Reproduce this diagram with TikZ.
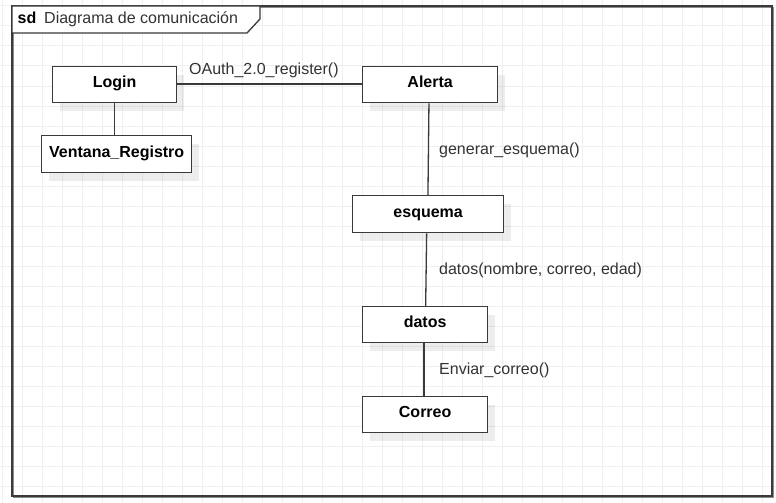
\documentclass[tikz,border=0pt]{standalone}
\usepackage{fontspec}
\setmainfont{Liberation Sans}
\usetikzlibrary{shadows}
\definecolor{gridc}{HTML}{EFEFEF}
\definecolor{linec}{HTML}{3A3A3A}
\definecolor{labelc}{HTML}{333333}
\tikzset{
  objbox/.style={draw=linec, line width=1.3pt, fill=white, rectangle, inner sep=0pt,
    anchor=north west, font=\fontsize{16}{19}\selectfont\bfseries,
    text height=12pt, text depth=6pt,
    drop shadow={shadow xshift=7pt, shadow yshift=-8pt, fill=black, opacity=0.07}},
  msglabel/.style={anchor=base west, inner sep=0pt, text=labelc, font=\fontsize{16}{19}\selectfont},
  conn/.style={draw=linec, line width=1.3pt},
}
\begin{document}
\begin{tikzpicture}[x=1pt,y=-1pt]
\useasboundingbox (0,0) rectangle (776,503);
\fill[white] (0,0) rectangle (776,503);
% grid
\foreach \gx in {2.7,22.7,...,776} \draw[gridc, line width=1pt] (\gx,0) -- (\gx,503);
\foreach \gy in {6,26,...,503} \draw[gridc, line width=1pt] (0,\gy) -- (776,\gy);
% frame
\draw[black!45, line width=1.3pt] (13.2,7.2) rectangle (773.2,497.2);
\draw[linec, line width=1.5pt] (12,6) rectangle (772,496);
\filldraw[fill=white, draw=linec, line width=1.3pt] (12,6) -- (260,6) -- (260,19) -- (247,33) -- (12,33) -- cycle;
\node[anchor=base west, inner sep=0pt, font=\fontsize{16}{19}\selectfont\bfseries] (sd) at (17.5,24) {sd};
\node[anchor=base west, inner sep=0pt, text=labelc, font=\fontsize{16}{19}\selectfont] (title) at (44,24) {Diagrama de comunicación};
% objects
\node[objbox, minimum width=124pt, minimum height=36pt] (login) at (52,66) {Login};
\node[objbox, minimum width=150pt, minimum height=37pt] (ventana) at (41,135) {Ventana\_Registro};
\node[objbox, minimum width=135pt, minimum height=36pt] (alerta) at (362,66) {Alerta};
\node[objbox, minimum width=151pt, minimum height=37pt] (esquema) at (352,195) {esquema};
\node[objbox, minimum width=125pt, minimum height=36pt] (datos) at (362,306) {datos};
\node[objbox, minimum width=125pt, minimum height=36pt] (correo) at (362,396) {Correo};
% connectors
\draw[conn] (login.south) -- (login.south |- ventana.north);
\draw[conn] ([yshift=0.7pt]login.east) -- ([yshift=0.7pt]alerta.west);
\draw[conn] ([xshift=-1.2pt]alerta.south) -- ([xshift=-0.2pt]esquema.north);
\draw[conn] ([xshift=-1.5pt]esquema.south) -- ([xshift=0.5pt]datos.north);
\draw[conn] ([xshift=-1.2pt]datos.south) -- ([xshift=-1.2pt]correo.north);
% labels
\node[msglabel] (l1) at (189,74.5) {OAuth\_2.0\_register()};
\node[msglabel] (l2) at (439,154.5) {generar\_esquema()};
\node[msglabel] (l3) at (439,274.5) {datos(nombre, correo, edad)};
\node[msglabel] (l4) at (439,374.5) {Enviar\_correo()};
\end{tikzpicture}
\end{document}
